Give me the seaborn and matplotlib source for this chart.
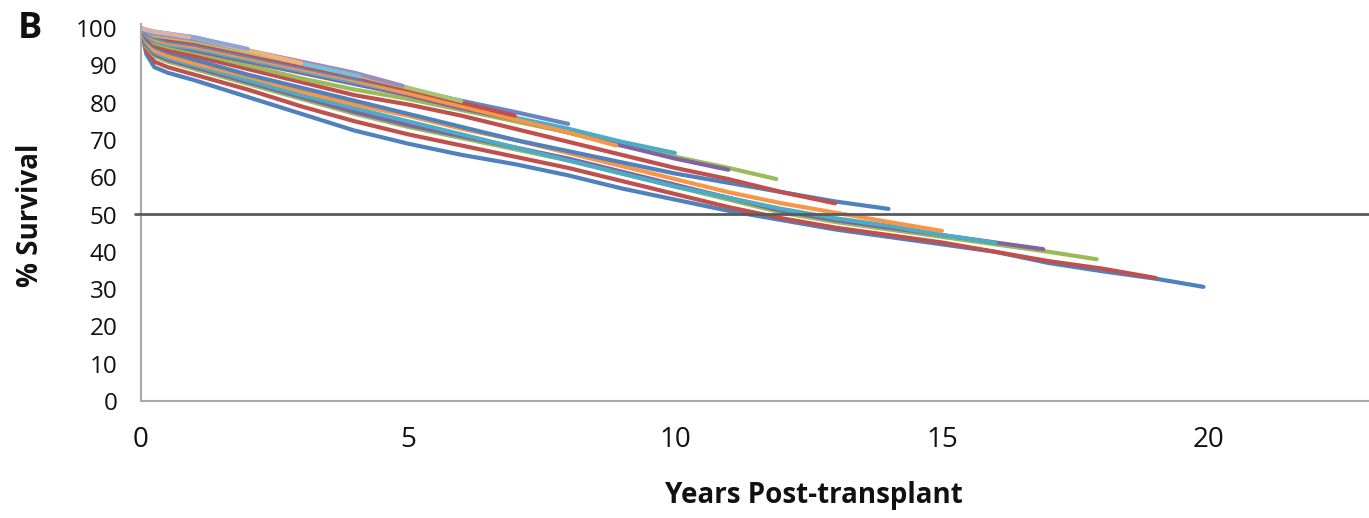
import matplotlib
matplotlib.use("Agg")
import matplotlib.pyplot as plt
import pandas as pd
import seaborn as sns

# ---- data: survival (%) by years post-transplant, one curve per cohort ----
EARLY_T = [0, 0.1, 0.25, 0.5, 1]


def knots(last_year, end):
    return EARLY_T + list(range(2, last_year + 1)) + [end]


surv_20 = [100, 93, 89.5, 88, 86, 81.5, 77, 72.5, 69, 66, 63.5, 60.5, 57, 54, 51,
           48.5, 46, 44, 42, 40, 37, 34.8, 32.8, 30.6]
surv_19 = [100, 94, 91, 89.5, 87.5, 83.5, 79, 75, 71.5, 68.5, 65.5, 62.5, 59, 55.5,
           52, 49, 46.5, 44.5, 42.5, 40, 37.5, 35.5, 33]
surv_18 = [100, 95, 92.5, 91, 89, 85, 81, 77, 73.5, 70.5, 67.5, 64.5, 61, 57.5, 54,
           50.5, 48, 46, 44, 42, 40, 38]
surv_17 = [100, 95.5, 93, 91.5, 89.5, 85.5, 81.5, 77.5, 74, 71, 68, 65, 61.5, 58,
           54.5, 51, 48.5, 46.5, 44.5, 42.5, 40.7]
surv_16 = [100, 96, 93.5, 92, 90, 86, 82, 78.5, 75, 71.5, 68, 64.5, 61, 57.5, 54.5,
           51.5, 49, 47, 44.5, 42.4]
surv_15 = [100, 96.5, 94, 92.5, 90.5, 87, 83, 79.5, 76.5, 73, 70, 66.5, 63, 59.5, 56,
           53, 50.5, 48, 45.6]
surv_14 = [100, 97, 95, 93.5, 91.5, 87.5, 84, 80.5, 77, 73.5, 70, 67, 64, 61, 58.5,
           56, 53.5, 51.5]
surv_13 = [100, 97.5, 95.5, 94, 92.5, 89, 85.5, 82, 79.5, 76.5, 73, 69.5, 66, 62.5,
           59.5, 56, 53]
surv_12 = [100, 98, 96, 95, 93.5, 90, 86.5, 83.5, 81, 78, 75, 72, 68.5, 65.5, 62.5, 59.5]
surv_11 = [100, 98, 96.5, 95.5, 94, 91, 88, 85, 82, 78.5, 75.5, 72, 68.5, 65, 62]
surv_10 = [100, 98, 96.5, 95.5, 94.5, 91.5, 88.5, 85.5, 82.5, 79.5, 76, 73, 69.5, 66.5]
surv_9 = [100, 98.5, 97, 96, 95, 92, 89, 86, 82.5, 79, 75.5, 72, 68.5]
surv_8 = [100, 98.5, 97.5, 96.5, 95.5, 92.5, 89.5, 86.5, 83.5, 80.5, 77.5, 74.3]
surv_7 = [100, 99, 98, 97, 96, 93, 90, 87, 83.5, 80, 76.5]
surv_6 = [100, 99, 98, 97.5, 96.5, 93.5, 90.5, 87.5, 84, 80.4]
surv_5 = [100, 99, 98.5, 98, 97, 94, 91, 88, 84.5]
surv_4 = [100, 99.5, 99, 98.5, 97.5, 94, 90.5, 87]
surv_3 = [100, 99.5, 99, 98.5, 97.5, 94, 90.6]
surv_2 = [100, 99.5, 99, 98.5, 97.5, 94.4]
surv_1 = [100, 99.5, 99, 98.5, 97.5]

cohorts = [
    ("c20", knots(19, 19.9), surv_20, "#4F81BD"),
    ("c19", knots(18, 19.0), surv_19, "#C0504D"),
    ("c18", knots(17, 17.9), surv_18, "#9BBB59"),
    ("c17", knots(16, 16.9), surv_17, "#8064A2"),
    ("c16", knots(15, 16.0), surv_16, "#4BACC6"),
    ("c15", knots(14, 15.0), surv_15, "#F79646"),
    ("c14", knots(13, 14.0), surv_14, "#4F81BD"),
    ("c13", knots(12, 13.0), surv_13, "#C0504D"),
    ("c12", knots(11, 11.9), surv_12, "#9BBB59"),
    ("c11", knots(10, 11.0), surv_11, "#8064A2"),
    ("c10", knots(9, 10.0), surv_10, "#4BACC6"),
    ("c9", knots(8, 8.9), surv_9, "#F79646"),
    ("c8", knots(7, 8.0), surv_8, "#6A84C4"),
    ("c7", knots(6, 7.0), surv_7, "#C0504D"),
    ("c6", knots(5, 6.0), surv_6, "#A9C46E"),
    ("c5", knots(4, 4.9), surv_5, "#9F8AC0"),
    ("c4", knots(3, 4.1), surv_4, "#78C0D4"),
    ("c3", knots(2, 3.0), surv_3, "#F9B074"),
    ("c2", knots(1, 2.0), surv_2, "#8DA6D6"),
    ("c1", [0, 0.1, 0.25, 0.5, 0.9], surv_1, "#DDB0AE"),
]

rows = []
for name, ts, vs, _ in cohorts:
    for t, v in zip(ts, vs):
        rows.append({"cohort": name, "years": t, "survival": v})
df = pd.DataFrame(rows)
palette = {name: col for name, _, _, col in cohorts}
order = [name for name, _, _, _ in cohorts]

# ---- figure ----
sns.set_style("white")
plt.rcParams["font.family"] = ["Open Sans", "DejaVu Sans"]

W, H = 1369, 518
fig = plt.figure(figsize=(W / 100, H / 100), dpi=100)
ax = fig.add_axes([141 / W, (H - 401) / H, 1 - 141 / W, 3.73 * 101 / H])

sns.lineplot(data=df, x="years", y="survival", hue="cohort", hue_order=order,
             palette=palette, estimator=None, sort=False, linewidth=3.0,
             legend=False, ax=ax)

ax.axhline(50, xmin=-0.005, xmax=1, color="#5a5a5a", linewidth=2.0,
           clip_on=False, zorder=5)

ax.set_xlim(0, 23.0)
ax.set_ylim(0, 101)
ax.set_xticks([0, 5, 10, 15, 20])
ax.set_yticks(range(0, 101, 10))
ax.tick_params(axis="x", length=0, pad=18, labelsize=20, colors="#111111")
ax.tick_params(axis="y", length=0, pad=17, labelsize=17.5, colors="#111111")
ax.set_xlabel("")
ax.set_ylabel("")
for s in ["top", "right"]:
    ax.spines[s].set_visible(False)
for s in ["left", "bottom"]:
    ax.spines[s].set_color("#a8a8a8")
    ax.spines[s].set_linewidth(1.5)

fig.text(30 / W, 1 - 29 / H, "B", ha="center", va="center",
         fontsize=26, fontweight="bold", color="#111111")
fig.text(30 / W, 1 - 215 / H, "% Survival", ha="center", va="center",
         rotation=90, fontsize=20, fontweight="bold", color="#111111")
fig.text(814 / W, 1 - 503 / H, "Years Post-transplant", ha="center",
         va="baseline", fontsize=20, fontweight="bold", color="#111111")

fig.savefig("out.png", dpi=100)
